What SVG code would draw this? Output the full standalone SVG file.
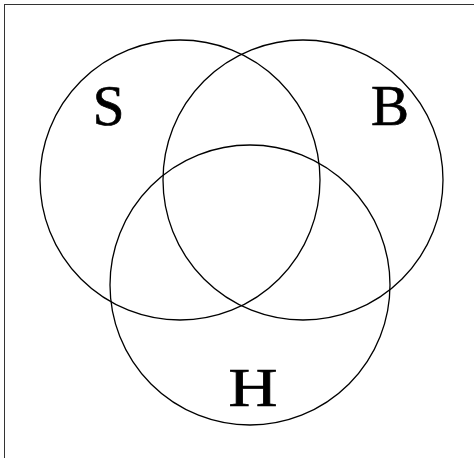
<svg xmlns="http://www.w3.org/2000/svg" width="474" height="458" viewBox="0 0 474 458">
<style>
.c{fill:none;stroke:#000;stroke-width:1.3}
.t{font-family:"Liberation Serif","Times New Roman",serif;font-size:57px;fill:#000;stroke:#000;stroke-width:0.7;text-anchor:middle}
</style>
<rect width="474" height="458" fill="#fff"/>
<rect x="4.5" y="4.5" width="480" height="470" fill="none" stroke="#333" stroke-width="1"/>
<g id="S"><circle class="c" cx="180" cy="180" r="140"/><text class="t" x="108.5" y="124.5">S</text></g>
<g id="B"><circle class="c" cx="303" cy="180" r="140"/><text class="t" x="390" y="125">B</text></g>
<g id="H"><circle class="c" cx="250" cy="285" r="140"/><text class="t" x="253" y="405.5" style="font-size:55.5px" textLength="49" lengthAdjust="spacingAndGlyphs">H</text></g>
<g id="connectors"/>
</svg>
